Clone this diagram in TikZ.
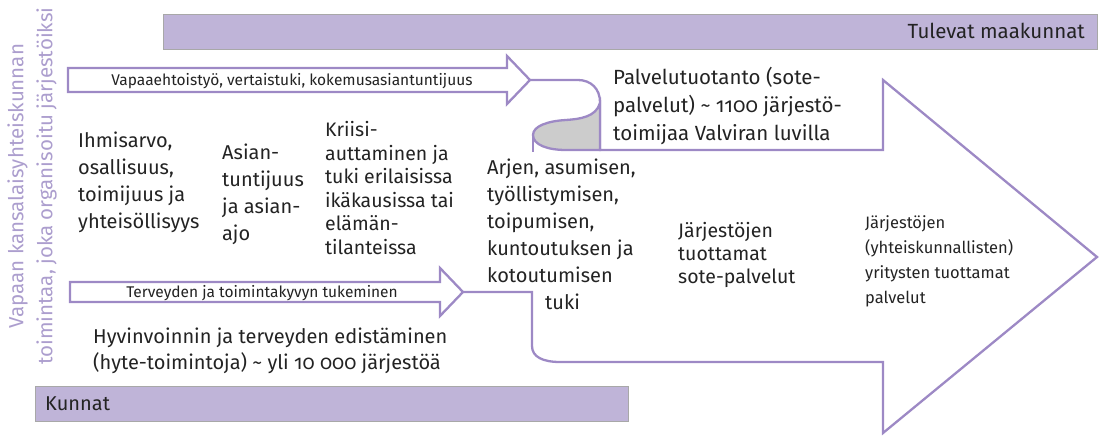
\documentclass[tikz,border=0pt]{standalone}
\usepackage{fontspec}
\setmainfont{Fira Sans}[Numbers=OldStyle]
\definecolor{barfill}{RGB}{191,180,216}
\definecolor{barline}{RGB}{168,168,168}
\definecolor{arrowline}{RGB}{157,137,197}
\definecolor{sidetext}{RGB}{172,158,206}
\definecolor{bodytext}{RGB}{35,35,35}
\definecolor{curlfill}{RGB}{204,204,204}
\tikzset{
    bar/.style={fill=barfill, draw=barline, line width=0.8pt},
    outline/.style={draw=arrowline, line width=2.3pt, line join=miter},
    body/.style={text=bodytext, align=left, inner sep=0pt, anchor=base west},
    bigtext/.style={body, font=\fontsize{20}{27}\selectfont},
    smalltext/.style={text=bodytext, inner sep=0pt, font=\fontsize{15.5}{18}\selectfont},
}
\begin{document}
\begin{tikzpicture}[x=1pt,y=-1pt]
    \useasboundingbox (0,0) rectangle (1100,436);

    % bars
    \draw[bar] (163,14) rectangle (1097,49);
    \draw[bar] (35,386) rectangle (628,421);
    \node[body, anchor=base east, font=\fontsize{20.5}{22}\selectfont] (maakunnat) at (1085,39) {Tulevat maakunnat};
    \node[body, font=\fontsize{20}{22}\selectfont] (kunnat) at (45,410) {Kunnat};

    % side text
    \node[text=sidetext, align=center, inner sep=0pt, rotate=90, font=\fontsize{20.5}{29}\selectfont] (side) at (32,186)
        {Vapaan kansalaisyhteiskunnan\\toimintaa, joka organisoitu järjestöiksi};

    % small arrows
    \coordinate (ttip) at (530,80);
    \coordinate (btip) at (463,292);
    \draw[outline, fill=white] (68,68) -- (507,68) -- (507,56) -- (ttip) -- (507,104) -- (507,92) -- (68,92) -- cycle;
    \draw[outline, fill=white] (70,282) -- (440,282) -- (440,268) -- (btip) -- (440,316) -- (440,302) -- (70,302) -- cycle;
    \node[smalltext] (vapaa) at (292,81) {Vapaaehtoistyö, vertaistuki, kokemusasiantuntijuus};
    \node[smalltext] (terveys) at (262,293) {Terveyden ja toimintakyvyn tukeminen};

    % big arrow
    \draw[outline] (ttip) -- (578,80) .. controls (591,80) and (600,89) .. (600,102) -- (600,150)
        -- (883,150) -- (883,80) -- (1097,257) -- (883,433) -- (883,362) -- (560,362)
        .. controls (543,362) and (532,357) .. (532,346) -- (532,292) -- (btip);
    \filldraw[outline, fill=curlfill] (600,103) .. controls (596,117) and (580,119) .. (566,120)
        .. controls (548,121) and (533,126) .. (533,135)
        .. controls (533,145) and (548,150) .. (566,150) -- (600,150) -- cycle;
    \draw[outline] (533,135) -- (533,152);

    % texts (anchored at the baseline of the last line)
    \node[bigtext] (ihmisarvo) at (78,228) {Ihmisarvo,\\osallisuus,\\toimijuus ja\\yhteisöllisyys};
    \node[bigtext] (asianajo) at (222,240) {Asian-\\tuntijuus\\ja asian-\\ajo};
    \node[bigtext, font=\fontsize{19.5}{23.5}\selectfont] (kriisi) at (325,254)
        {Kriisi-\\auttaminen ja\\tuki erilaisissa\\ikäkausissa tai\\elämän-\\tilanteissa};
    \node[bigtext, font=\fontsize{20.5}{28}\selectfont] (palvelu) at (613,140)
        {Palvelutuotanto (sote-\\palvelut) \textasciitilde{} 1100 järjestö-\\toimijaa Valviran luvilla};
    \node[bigtext] (arki) at (487,309)
        {Arjen, asumisen,\\työllistymisen,\\toipumisen,\\kuntoutuksen ja\\kotoutumisen\\\hspace*{58pt}tuki};
    \node[bigtext, font=\fontsize{19.5}{23}\selectfont] (sote) at (678,283) {Järjestöjen\\tuottamat\\sote-palvelut};
    \node[bigtext, font=\fontsize{16.5}{25}\selectfont] (yritys) at (865,303)
        {Järjestöjen\\(yhteiskunnallisten)\\yritysten tuottamat\\palvelut};
    \node[bigtext, font=\fontsize{20}{26}\selectfont] (hyte) at (93,369)
        {Hyvinvoinnin ja terveyden edistäminen\\(hyte-toimintoja) \textasciitilde{} yli 10 000 järjestöä};
\end{tikzpicture}
\end{document}
